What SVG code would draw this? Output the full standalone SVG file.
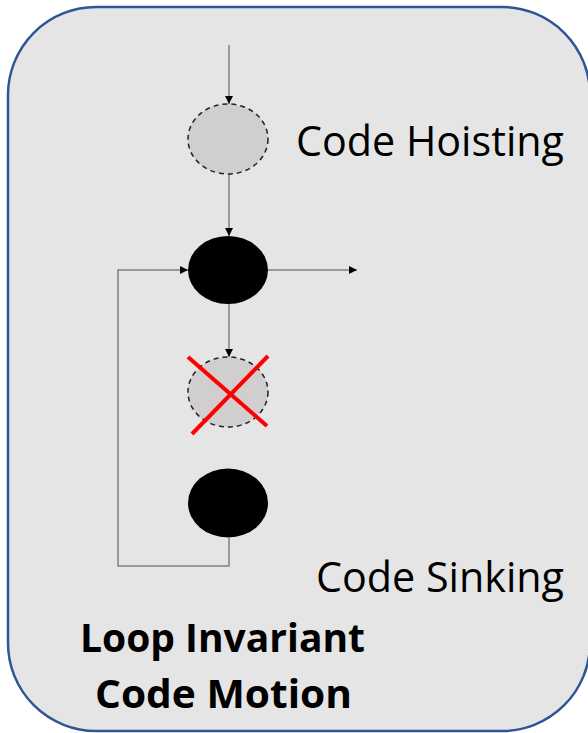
<svg xmlns="http://www.w3.org/2000/svg" width="588" height="733" viewBox="0 0 588 733">
  <style>
    .frame { fill: #e5e5e5; stroke: #2f5597; stroke-width: 2.5; }
    .edge { fill: none; stroke: #808080; stroke-width: 1.5; }
    .ghost { fill: #d0cece; stroke: #222; stroke-width: 1.5; stroke-dasharray: 5 4; }
    .solid { fill: #000; }
    .cross { stroke: #ff0000; stroke-width: 4; stroke-linecap: butt; }
    .label { font-family: "Open Sans", "Noto Sans", sans-serif; font-size: 42px; fill: #000; }
    .title { font-family: "Open Sans", "Noto Sans", sans-serif; font-size: 40px; font-weight: bold; fill: #000; }
  </style>
  <defs>
    <marker id="arrow" viewBox="0 0 10 10" refX="10" refY="5" markerWidth="8" markerHeight="8" markerUnits="userSpaceOnUse" orient="auto">
      <path d="M0,0 L10,5 L0,10 Z" fill="#000"/>
    </marker>
  </defs>

  <!-- outer panel -->
  <rect class="frame" x="8" y="7" width="582" height="724" rx="88" ry="88"/>

  <!-- connectors -->
  <g id="connectors">
    <line class="edge" x1="229" y1="45" x2="229" y2="104" marker-end="url(#arrow)"/>
    <line class="edge" x1="229" y1="174" x2="229" y2="236" marker-end="url(#arrow)"/>
    <line class="edge" x1="268" y1="270" x2="357" y2="270" marker-end="url(#arrow)"/>
    <line class="edge" x1="229" y1="304" x2="229" y2="357" marker-end="url(#arrow)"/>
    <polyline class="edge" points="229,538 229,566 118,566 118,270 188,270" marker-end="url(#arrow)"/>
  </g>

  <!-- hoisted block (moved out of the loop) -->
  <g id="hoisted">
    <ellipse class="ghost" cx="228" cy="139" rx="40" ry="35"/>
  </g>

  <!-- loop header -->
  <g id="header">
    <ellipse class="solid" cx="228" cy="270" rx="40" ry="34"/>
  </g>

  <!-- removed invariant block -->
  <g id="removed">
    <ellipse class="ghost" cx="228" cy="392" rx="40" ry="35"/>
    <line class="cross" x1="188" y1="357" x2="267" y2="426"/>
    <line class="cross" x1="268" y1="356" x2="192" y2="434"/>
  </g>

  <!-- loop body -->
  <g id="body">
    <ellipse class="solid" cx="228" cy="503" rx="40" ry="34.5"/>
  </g>

  <!-- labels -->
  <g id="labels">
    <text class="label" x="296" y="156" textLength="268" lengthAdjust="spacingAndGlyphs">Code Hoisting</text>
    <text class="label" x="316" y="592" textLength="248" lengthAdjust="spacingAndGlyphs">Code Sinking</text>
    <text class="title" x="80" y="652" textLength="285" lengthAdjust="spacingAndGlyphs">Loop Invariant</text>
    <text class="title" x="95" y="708" textLength="257" lengthAdjust="spacingAndGlyphs">Code Motion</text>
  </g>
</svg>
